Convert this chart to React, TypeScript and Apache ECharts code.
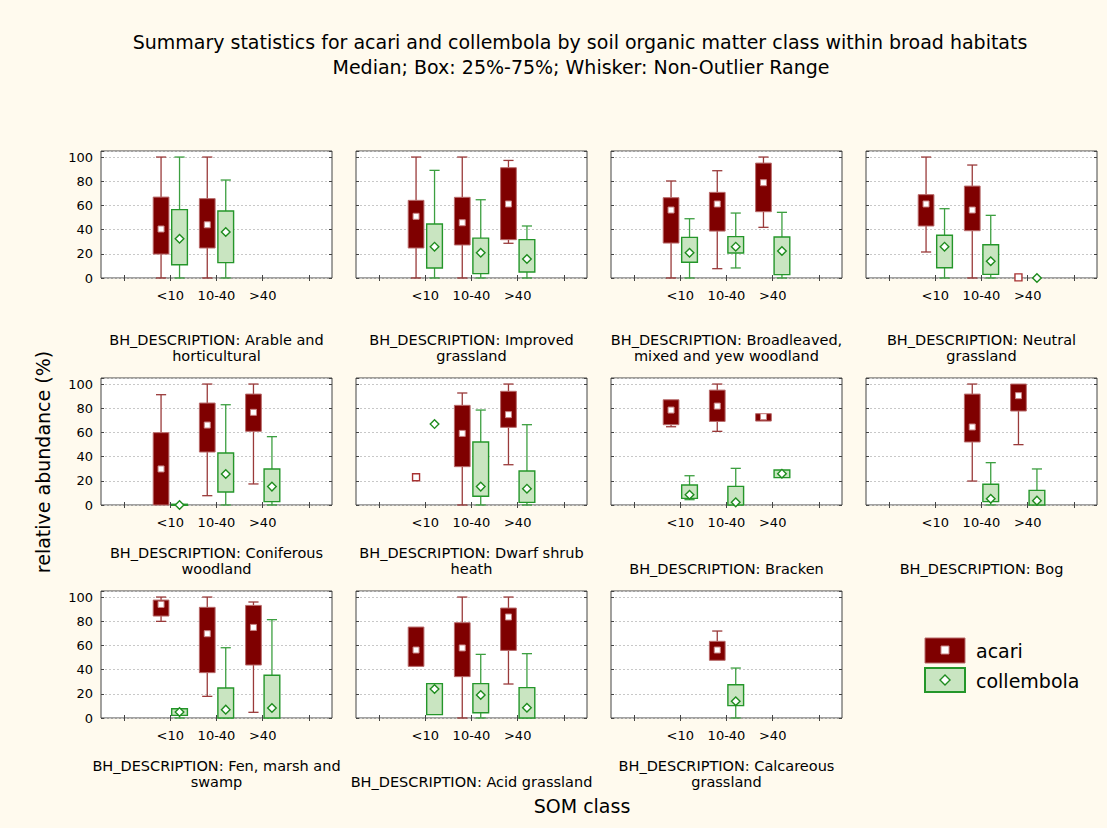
import React, { useEffect, useRef } from "react";
import * as echarts from "echarts";

// ---------- DATA ----------
const categories = ["", "<10", "10-40", ">40", ""];
const yTicks = [0, 20, 40, 60, 80, 100];

// each entry: [min, q1, median, q3, max] for <10, 10-40, >40 (null = no data)
type Stat = number[] | null;
const arableAcari: Stat[] = [[0, 19.8, 40.5, 66.9, 100], [0, 24.8, 44, 65.6, 100], null];
const arableColl: Stat[] = [[0, 11, 32.5, 56.5, 100], [0, 12.7, 38, 55.4, 81], null];
const improvedAcari: Stat[] = [[0, 24.8, 51, 64.2, 100], [0, 27.3, 45.7, 66.7, 100], [28.7, 31.7, 61.2, 91.2, 97.2]];
const improvedColl: Stat[] = [[0, 8.3, 25.9, 44.6, 89], [0, 3.6, 20.9, 33, 64.7], [0, 5, 15.7, 31.7, 43]];
const broadAcari: Stat[] = [[0, 28.9, 56.2, 66.4, 80.2], [7.7, 38.8, 61.2, 70.8, 88.7], [41.9, 54.8, 78.8, 95, 100]];
const broadColl: Stat[] = [[0, 13, 20.9, 33.6, 49], [8.3, 20.7, 25.9, 34.2, 53.7], [0, 2.8, 22.3, 33.9, 54.3]];
const neutralAcari: Stat[] = [[21.5, 43, 61.2, 68.9, 100], [0, 39.1, 56.2, 76, 93.4], [0.5, 0.5, 0.5, 0.5, 0.5]];
const neutralColl: Stat[] = [[0, 8.5, 25.9, 35.3, 57.3], [0, 3, 13.8, 27.5, 51.8], [0, 0, 0, 0, 0]];
const coniferAcari: Stat[] = [[0, 0, 29.8, 59.8, 91.2], [7.7, 43.8, 66.1, 84.3, 100], [17.4, 60.9, 76.6, 91.7, 100]];
const coniferColl: Stat[] = [[0, 0, 0, 0.6, 0.6], [0, 10.7, 25.6, 43, 82.9], [0, 2.8, 15.2, 29.8, 56.5]];
const dwarfAcari: Stat[] = [[22.9, 22.9, 22.9, 22.9, 22.9], [0, 31.7, 59.2, 82.4, 92.6], [33.3, 64.2, 74.7, 94, 100]];
const dwarfColl: Stat[] = [[66.9, 66.9, 66.9, 66.9, 66.9], [0, 7.2, 15.2, 52.1, 78.5], [0, 2.2, 13.5, 28.1, 66.4]];
const brackenAcari: Stat[] = [[64.7, 66.4, 78.5, 87, 87], [60.9, 69.1, 81.8, 95, 100], [69.4, 69.4, 73, 75.5, 75.5]];
const brackenColl: Stat[] = [[4.4, 5.5, 8.5, 16.5, 24.2], [0, 0, 2.2, 15.4, 30.3], [22.6, 22.6, 25.9, 28.9, 28.9]];
const bogAcari: Stat[] = [null, [19.8, 52.1, 64.5, 91.7, 100], [49.9, 77.7, 90.4, 100, 100]];
const bogColl: Stat[] = [null, [0, 2.8, 5.2, 17.1, 35], [0, 0, 3.6, 12.1, 29.8]];
const fenAcari: Stat[] = [[79.9, 84.3, 93.9, 97.5, 100], [17.9, 37.5, 69.7, 91.5, 100], [4.7, 43.8, 74.9, 93.1, 95.9]];
const fenColl: Stat[] = [[0, 2.2, 5, 7.7, 7.7], [0, 0, 6.9, 24.8, 58.1], [0, 0, 8.3, 35.3, 81.3]];
const acidAcari: Stat[] = [[42.7, 42.7, 56.2, 75.2, 75.2], [0, 34.2, 57.9, 78.8, 100], [28.1, 55.9, 83.5, 90.9, 100]];
const acidColl: Stat[] = [[2.8, 2.8, 24, 28.4, 28.4], [0, 4.4, 19, 28.4, 52.6], [0, 0, 8.5, 25.1, 53.2]];
const calcAcari: Stat[] = [null, [47.7, 47.7, 56.2, 63.4, 71.9], null];
const calcColl: Stat[] = [null, [0, 10.2, 13.8, 27.5, 41.3], null];

const panelTitles = [
  "BH_DESCRIPTION: Arable and\nhorticultural",
  "BH_DESCRIPTION: Improved\ngrassland",
  "BH_DESCRIPTION: Broadleaved,\nmixed and yew woodland",
  "BH_DESCRIPTION: Neutral\ngrassland",
  "BH_DESCRIPTION: Coniferous\nwoodland",
  "BH_DESCRIPTION: Dwarf shrub\nheath",
  "BH_DESCRIPTION: Bracken",
  "BH_DESCRIPTION: Bog",
  "BH_DESCRIPTION: Fen, marsh and\nswamp",
  "BH_DESCRIPTION: Acid grassland",
  "BH_DESCRIPTION: Calcareous\ngrassland",
];
const acariByPanel = [arableAcari, improvedAcari, broadAcari, neutralAcari, coniferAcari, dwarfAcari, brackenAcari, bogAcari, fenAcari, acidAcari, calcAcari];
const collByPanel = [arableColl, improvedColl, broadColl, neutralColl, coniferColl, dwarfColl, brackenColl, bogColl, fenColl, acidColl, calcColl];

const seriesNames = ["acari", "collembola"];
const titleLines = [
  "Summary statistics for acari and collembola by soil organic matter class within broad habitats",
  "Median; Box: 25%-75%; Whisker: Non-Outlier Range",
];

// ---------- LAYOUT / STYLE ----------
const colLefts = [101, 356, 611, 866];
const rowTops = [151, 378, 591];
const captionBottoms = [364, 577, 790];
const gridW = 231;
const gridH = 127;
const FONT = '"DejaVu Sans", "Liberation Sans", Arial, sans-serif';
const BG = "#fffaee";

const ACARI = { fill: "#7f0000", edge: "#b86a6a", whisker: "#9a3a3a", mark: "#c98383", point: "#a83232" };
const COLL = { fill: "#c9e5c1", edge: "#24962a", whisker: "#3c9f40", mark: "#1e8c1e" };

function makeRender(kind: "acari" | "coll") {
  return (params: any, api: any) => {
    const cat = api.value(0);
    const vmin = api.value(1);
    const q1 = api.value(2);
    const med = api.value(3);
    const q3 = api.value(4);
    const vmax = api.value(5);
    const bw = api.size([1, 0])[0];
    const base = api.coord([cat, med]);
    const cx = base[0] + (kind === "acari" ? -0.2 : 0.2) * bw;
    const yOf = (v: number) => api.coord([cat, v])[1];
    const boxW = 0.34 * bw;
    const capW = 0.22 * bw;
    const C = kind === "acari" ? ACARI : COLL;
    const children: any[] = [];
    const single = vmax - vmin < 0.01;
    const my = yOf(med);
    if (!single) {
      if (vmax > q3 + 0.01) {
        children.push({ type: "line", shape: { x1: cx, y1: yOf(vmax), x2: cx, y2: yOf(q3) }, style: { stroke: C.whisker, lineWidth: 1.3 } });
        children.push({ type: "line", shape: { x1: cx - capW / 2, y1: yOf(vmax), x2: cx + capW / 2, y2: yOf(vmax) }, style: { stroke: C.whisker, lineWidth: 1.3 } });
      }
      if (q1 > vmin + 0.01) {
        children.push({ type: "line", shape: { x1: cx, y1: yOf(q1), x2: cx, y2: yOf(vmin) }, style: { stroke: C.whisker, lineWidth: 1.3 } });
        children.push({ type: "line", shape: { x1: cx - capW / 2, y1: yOf(vmin), x2: cx + capW / 2, y2: yOf(vmin) }, style: { stroke: C.whisker, lineWidth: 1.3 } });
      }
      const yTop = yOf(q3);
      const yBot = yOf(q1);
      children.push({
        type: "rect",
        shape: { x: cx - boxW / 2, y: yTop, width: boxW, height: Math.max(yBot - yTop, 1) },
        style: { fill: C.fill, stroke: C.edge, lineWidth: kind === "acari" ? 1 : 1.4 },
      });
    }
    if (kind === "acari") {
      if (single) {
        children.push({ type: "rect", shape: { x: cx - 3.5, y: my - 3.5, width: 7, height: 7 }, style: { fill: "#ffffff", stroke: ACARI.point, lineWidth: 1.4 } });
      } else {
        children.push({ type: "rect", shape: { x: cx - 3, y: my - 3, width: 6, height: 6 }, style: { fill: "#ffffff", stroke: ACARI.mark, lineWidth: 1 } });
      }
    } else {
      const r = 4.3;
      children.push({
        type: "polygon",
        shape: { points: [[cx, my - r], [cx + r, my], [cx, my + r], [cx - r, my]] },
        style: { fill: "#ffffff", stroke: COLL.mark, lineWidth: 1.4 },
      });
    }
    return { type: "group", children };
  };
}

function toData(stats: Stat[]) {
  const out: any[] = [];
  stats.forEach((s, i) => {
    if (s) out.push([i + 1, ...s]);
  });
  return out;
}

function buildOption() {
  const grids: any[] = [];
  const xAxes: any[] = [];
  const yAxes: any[] = [];
  const series: any[] = [];
  const graphics: any[] = [];
  const tickStyle = { show: true, inside: true, length: 3, lineStyle: { color: "#444", width: 1 } };

  panelTitles.forEach((title, p) => {
    const col = p % 4;
    const row = Math.floor(p / 4);
    const left = colLefts[col];
    const top = rowTops[row];
    grids.push({ left, top, width: gridW, height: gridH, show: true, backgroundColor: "#ffffff", borderColor: "#454545", borderWidth: 1 });
    xAxes.push({
      type: "category", gridIndex: p, data: categories, position: "bottom",
      axisLine: { show: false }, axisTick: { ...tickStyle, alignWithLabel: true, interval: 0 },
      axisLabel: { interval: 0, margin: 11, color: "#000", fontSize: 13, fontFamily: FONT },
      splitLine: { show: false },
    });
    xAxes.push({
      type: "category", gridIndex: p, data: categories, position: "top",
      axisLine: { show: false }, axisTick: { ...tickStyle, alignWithLabel: true, interval: 0 },
      axisLabel: { show: false }, splitLine: { show: false },
    });
    const yBase = {
      type: "value", gridIndex: p, min: 0, max: 105, interval: 20,
      axisLine: { show: false }, axisTick: tickStyle,
    };
    yAxes.push({
      ...yBase, position: "left",
      axisLabel: {
        show: col === 0, margin: 8, color: "#000", fontSize: 13, fontFamily: FONT,
        formatter: (v: number) => (yTicks.includes(v) ? String(v) : ""),
      },
      splitLine: { show: true, lineStyle: { color: "#c8c8c8", type: [2, 2], width: 1 } },
    });
    yAxes.push({ ...yBase, position: "right", axisLabel: { show: false }, splitLine: { show: false } });

    series.push({
      type: "custom", name: seriesNames[0], xAxisIndex: p * 2, yAxisIndex: p * 2,
      renderItem: makeRender("acari"), data: toData(acariByPanel[p]), encode: { x: 0, y: [1, 2, 3, 4, 5] }, z: 3,
    });
    series.push({
      type: "custom", name: seriesNames[1], xAxisIndex: p * 2, yAxisIndex: p * 2,
      renderItem: makeRender("coll"), data: toData(collByPanel[p]), encode: { x: 0, y: [1, 2, 3, 4, 5] }, z: 3,
    });

    graphics.push({
      type: "text", x: left + gridW / 2, y: captionBottoms[row],
      style: { text: title, fill: "#000", font: `14.5px ${FONT}`, textAlign: "center", textVerticalAlign: "bottom", lineHeight: 16 },
    });
  });

  // titles
  graphics.push({ type: "text", x: 580, y: 42, style: { text: titleLines[0], fill: "#000", font: `19px ${FONT}`, textAlign: "center", textVerticalAlign: "middle" } });
  graphics.push({ type: "text", x: 581, y: 67, style: { text: titleLines[1], fill: "#000", font: `19px ${FONT}`, textAlign: "center", textVerticalAlign: "middle" } });
  // axis names
  graphics.push({ type: "text", x: 43, y: 462, rotation: Math.PI / 2, style: { text: "relative abundance (%)", fill: "#000", font: `19px ${FONT}`, textAlign: "center", textVerticalAlign: "middle" } });
  graphics.push({ type: "text", x: 582, y: 806, style: { text: "SOM class", fill: "#000", font: `19px ${FONT}`, textAlign: "center", textVerticalAlign: "middle" } });

  // legend
  graphics.push({ type: "rect", shape: { x: 925, y: 638, width: 40, height: 25 }, style: { fill: ACARI.fill, stroke: ACARI.edge, lineWidth: 1 } });
  graphics.push({ type: "rect", shape: { x: 941, y: 646, width: 8, height: 8 }, style: { fill: "#ffffff", stroke: ACARI.mark, lineWidth: 1 } });
  graphics.push({ type: "rect", shape: { x: 925, y: 668, width: 40, height: 24 }, style: { fill: COLL.fill, stroke: COLL.edge, lineWidth: 2 } });
  graphics.push({ type: "polygon", shape: { points: [[945, 675], [950, 680], [945, 685], [940, 680]] }, style: { fill: "#ffffff", stroke: COLL.mark, lineWidth: 1.4 } });
  graphics.push({ type: "text", x: 976, y: 651, style: { text: seriesNames[0], fill: "#000", font: `19px ${FONT}`, textAlign: "left", textVerticalAlign: "middle" } });
  graphics.push({ type: "text", x: 976, y: 681, style: { text: seriesNames[1], fill: "#000", font: `19px ${FONT}`, textAlign: "left", textVerticalAlign: "middle" } });

  return {
    animation: false,
    backgroundColor: BG,
    grid: grids,
    xAxis: xAxes,
    yAxis: yAxes,
    series,
    graphic: graphics,
  };
}

export default function App() {
  const ref = useRef<HTMLDivElement>(null);
  useEffect(() => {
    if (!ref.current) return;
    const chart = echarts.init(ref.current, undefined, { renderer: "svg" });
    chart.setOption(buildOption() as any);
    return () => chart.dispose();
  }, []);
  return <div ref={ref} style={{ position: "absolute", left: 0, top: 0, width: 1107, height: 828 }} />;
}
